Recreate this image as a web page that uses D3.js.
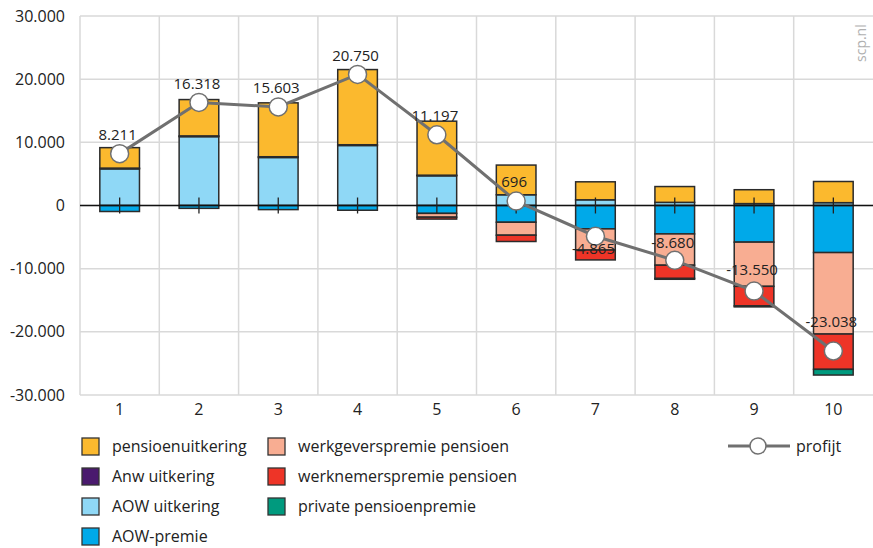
<!DOCTYPE html>
<html lang="nl">
  <head>
    <meta charset="utf-8">
    <title>profijt</title>
    <style>
      body { margin: 0; background: #fff; }
      svg { display: block; font-family: "Open Sans", sans-serif; }
    </style>
  </head>
  <body>
    <svg width="873" height="548"></svg>
    <script src="https://d3js.org/d3.v7.min.js"></script>
    <script>
      // decielen / groepen
      var categories = ["1", "2", "3", "4", "5", "6", "7", "8", "9", "10"];

      // componenten (euro), positief = ontvangen, negatief = betaald
      var aowUitkering   = [5800, 10900, 7600, 9500, 4700, 1700, 900, 500, 300, 450];
      var anwUitkering   = [120, 120, 120, 120, 100, 0, 0, 0, 0, 0];
      var pensioenUitk   = [3240, 5750, 8530, 11900, 8550, 4700, 2850, 2500, 2200, 3350];
      var aowPremie      = [-950, -450, -650, -750, -1250, -2650, -3700, -4500, -5800, -7450];
      var werkgeverPrem  = [0, 0, 0, 0, -600, -2050, -3350, -4950, -7000, -12900];
      var werknemerPrem  = [0, 0, 0, 0, -300, -1000, -1565, -2100, -3100, -5590];
      var privatePrem    = [0, 0, 0, 0, 0, 0, 0, -130, -150, -900];

      var profijt = [8211, 16318, 15603, 20750, 11197, 696, -4865, -8680, -13550, -23038];

      var yTicks = [30000, 20000, 10000, 0, -10000, -20000, -30000];

      var series = [
        {key: "aowUitkering", name: "AOW uitkering", color: "#8fd8f6", values: aowUitkering},
        {key: "anwUitkering", name: "Anw uitkering", color: "#4a1a6e", values: anwUitkering},
        {key: "pensioenUitk", name: "pensioenuitkering", color: "#fbb92e", values: pensioenUitk},
        {key: "aowPremie", name: "AOW-premie", color: "#00a9e9", values: aowPremie},
        {key: "werkgeverPrem", name: "werkgeverspremie pensioen", color: "#f8ad92", values: werkgeverPrem},
        {key: "werknemerPrem", name: "werknemerspremie pensioen", color: "#ee3427", values: werknemerPrem},
        {key: "privatePrem", name: "private pensioenpremie", color: "#009a7e", values: privatePrem}
      ];

      // label offsets relative to the marker (px)
      var labelDy = [-19, -19, -19, -19, -19, -19, 13, -18, -21, -29];

      var svg = d3.select("svg");
      var mLeft = 80, mRight = 873, mTop = 16, mBottom = 395;

      var x = d3.scaleBand().domain(categories).range([mLeft, mRight]);
      var y = d3.scaleLinear().domain([-30000, 30000]).range([mBottom, mTop]);
      var fmt = d => d3.format(",")(d).replace(/,/g, ".").replace("−", "-");

      var table = categories.map(function(c, i) {
        var row = {cat: c};
        series.forEach(function(s) { row[s.key] = s.values[i]; });
        return row;
      });

      var stack = d3.stack()
        .keys(series.map(function(s) { return s.key; }))
        .offset(d3.stackOffsetDiverging);
      var stacked = stack(table);

      // grid
      var grid = svg.append("g");
      grid.selectAll("line.h")
        .data(yTicks)
        .enter().append("line")
        .attr("x1", mLeft).attr("x2", mRight)
        .attr("y1", d => y(d)).attr("y2", d => y(d))
        .attr("stroke", "#d9d9d9").attr("stroke-width", 1.5);
      grid.selectAll("line.v")
        .data(categories)
        .enter().append("line")
        .attr("x1", d => x(d)).attr("x2", d => x(d))
        .attr("y1", mTop).attr("y2", mBottom)
        .attr("stroke", "#d9d9d9").attr("stroke-width", 1.5);

      // y axis labels
      svg.append("g")
        .attr("transform", "translate(" + (mLeft - 12) + ",0)")
        .call(d3.axisLeft(y).tickValues(yTicks).tickSize(0).tickFormat(fmt))
        .call(g => g.select(".domain").remove())
        .selectAll("text")
        .attr("font-size", 16)
        .attr("font-family", "Open Sans, sans-serif")
        .attr("fill", "#222");

      // x axis labels
      svg.append("g")
        .attr("transform", "translate(0," + (mBottom + 6) + ")")
        .call(d3.axisBottom(x).tickSize(0))
        .call(g => g.select(".domain").remove())
        .selectAll("text")
        .attr("font-size", 16)
        .attr("font-family", "Open Sans, sans-serif")
        .attr("fill", "#222");

      // bars
      var bw = x.bandwidth() / 2;
      svg.append("g")
        .selectAll("g")
        .data(stacked)
        .enter().append("g")
        .attr("fill", (d, i) => series[i].color)
        .selectAll("rect")
        .data(d => d.filter(p => p[1] !== p[0]))
        .enter().append("rect")
        .attr("x", d => x(d.data.cat) + (x.bandwidth() - bw) / 2)
        .attr("width", bw)
        .attr("y", d => y(Math.max(d[0], d[1])))
        .attr("height", d => Math.abs(y(d[0]) - y(d[1])))
        .attr("stroke", "#2b2b2b")
        .attr("stroke-width", 1.5);

      // zero line + center ticks
      svg.append("line")
        .attr("x1", mLeft).attr("x2", mRight)
        .attr("y1", y(0)).attr("y2", y(0))
        .attr("stroke", "#111").attr("stroke-width", 1.3);
      svg.append("g")
        .selectAll("line")
        .data(categories)
        .enter().append("line")
        .attr("x1", d => x(d) + x.bandwidth() / 2)
        .attr("x2", d => x(d) + x.bandwidth() / 2)
        .attr("y1", y(0) - 8).attr("y2", y(0) + 8)
        .attr("stroke", "#222").attr("stroke-width", 1.3);

      // profijt line
      var cx = d => x(d) + x.bandwidth() / 2;
      svg.append("path")
        .datum(categories)
        .attr("fill", "none")
        .attr("stroke", "#707070")
        .attr("stroke-width", 3)
        .attr("d", d3.line().x(d => cx(d)).y((d, i) => y(profijt[i])));

      svg.append("g")
        .selectAll("circle")
        .data(categories)
        .enter().append("circle")
        .attr("cx", d => cx(d))
        .attr("cy", (d, i) => y(profijt[i]))
        .attr("r", 9)
        .attr("fill", "#fff")
        .attr("stroke", "#707070")
        .attr("stroke-width", 1.5);

      svg.append("g")
        .selectAll("text")
        .data(categories)
        .enter().append("text")
        .attr("x", d => cx(d) - 2)
        .attr("y", (d, i) => y(profijt[i]) + labelDy[i])
        .attr("dy", "0.35em")
        .attr("text-anchor", "middle")
        .attr("font-size", 15)
        .attr("fill", "#222")
        .text((d, i) => fmt(profijt[i]));

      // source
      svg.append("text")
        .attr("transform", "translate(866,62) rotate(-90)")
        .attr("font-size", 14)
        .attr("fill", "#b0b0b0")
        .text("scp.nl");

      // legend
      var legendItems = [
        {s: series[2], col: 0, row: 0},
        {s: series[1], col: 0, row: 1},
        {s: series[0], col: 0, row: 2},
        {s: series[3], col: 0, row: 3},
        {s: series[4], col: 1, row: 0},
        {s: series[5], col: 1, row: 1},
        {s: series[6], col: 1, row: 2}
      ];
      var colX = [82, 268];
      var legend = svg.append("g").attr("font-size", 16).attr("fill", "#222");
      var li = legend.selectAll("g")
        .data(legendItems)
        .enter().append("g")
        .attr("transform", d => "translate(" + colX[d.col] + "," + (446 + d.row * 30) + ")");
      li.append("rect")
        .attr("x", 0).attr("y", -8)
        .attr("width", 17).attr("height", 17)
        .attr("fill", d => d.s.color)
        .attr("stroke", "#333").attr("stroke-width", 1.3);
      li.append("text")
        .attr("x", 30).attr("dy", "0.35em")
        .text(d => d.s.name);

      var pl = legend.append("g").attr("transform", "translate(728,446)");
      pl.append("line").attr("x1", 0).attr("x2", 62)
        .attr("stroke", "#707070").attr("stroke-width", 3);
      pl.append("circle").attr("cx", 30).attr("r", 8)
        .attr("fill", "#fff").attr("stroke", "#707070").attr("stroke-width", 1.5);
      pl.append("text").attr("x", 68).attr("dy", "0.35em").text("profijt");
    </script>
  </body>
</html>
